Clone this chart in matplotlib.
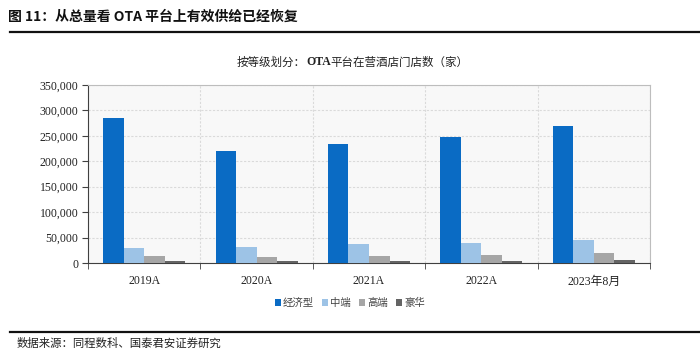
import matplotlib
matplotlib.use("Agg")
import matplotlib.pyplot as plt
import numpy as np
from matplotlib.ticker import FuncFormatter, FixedLocator

plt.rcParams['font.family'] = ['Noto Sans CJK SC', 'DejaVu Sans']

categories = ['2019A', '2020A', '2021A', '2022A', '2023年8月']
series_names = ['经济型', '中端', '高端', '豪华']
economy = [285000, 221000, 234000, 248000, 270000]
midscale = [29000, 32000, 37000, 39000, 45000]
upscale = [14000, 12000, 14000, 16000, 19500]
luxury = [3000, 3000, 3500, 4500, 5000]
yticks = [0, 50000, 100000, 150000, 200000, 250000, 300000, 350000]
colors = ['#0a6bc4', '#9dc3e6', '#a6a6a6', '#646464']

W, H = 700, 356
fig = plt.figure(figsize=(W/100, H/100), dpi=100)
ax = fig.add_axes([88/W, 1-263/H, (650-88)/W, (263-85)/H])
ax.set_facecolor('#f8f8f8')

x = np.arange(len(categories))
bw = 0.1824
for i, (vals, c, n) in enumerate(zip([economy, midscale, upscale, luxury], colors, series_names)):
    ax.bar(x + (i-1.5)*bw, vals, bw, color=c, label=n, zorder=3)

ax.set_xlim(-0.5, len(categories)-0.5)
ax.set_ylim(0, 350000)
ax.set_yticks(yticks)
ax.yaxis.set_major_formatter(FuncFormatter(lambda v, p: f'{int(v):,}'))
ax.set_xticks(x)
ax.set_xticklabels(categories)
ax.xaxis.set_minor_locator(FixedLocator(np.arange(-0.5, len(categories), 1.0)))
ax.tick_params(axis='x', which='major', length=0, pad=9)
ax.tick_params(axis='x', which='minor', length=4, direction='out', color='#404040')
ax.tick_params(axis='y', length=4, direction='out', color='#404040', pad=3)
for lab in ax.get_xticklabels() + ax.get_yticklabels():
    lab.set_fontfamily(['Liberation Serif', 'Noto Sans CJK SC'])
    lab.set_fontsize(8.5)
    lab.set_color('#222222')

ax.grid(axis='y', color='#dadada', linestyle=(0, (2, 1.5)), linewidth=0.8, zorder=0)
ax.grid(axis='x', which='minor', color='#dadada', linestyle=(0, (2, 1.5)), linewidth=0.8, zorder=0)
for s in ['top', 'right']:
    ax.spines[s].set_color('#bdbdbd')
for s in ['left', 'bottom']:
    ax.spines[s].set_color('#404040')

ax.legend(loc='upper center', bbox_to_anchor=(350/W, 1-298/H), bbox_transform=fig.transFigure,
          ncol=4, frameon=False, fontsize=7.5, handlelength=0.55, handleheight=0.55,
          handletextpad=0.2, columnspacing=0.8, labelcolor='#444444',
          borderaxespad=0, borderpad=0)

fig.text(8/W, 1-17/H, '图 11：从总量看 OTA 平台上有效供给已经恢复', fontsize=10,
         fontweight='bold', va='center', ha='left', color='#111111')
fig.add_artist(plt.Line2D([10/W, 1.0], [1-32/H, 1-32/H], color='#111111', linewidth=1.6))

# subtitle with bold serif "OTA"
ty = 1-62/H
t1 = fig.text(237/W, ty, '按等级划分：', fontsize=8.3, va='center', ha='left', color='#222222')
fig.canvas.draw()
r = fig.canvas.get_renderer()
bb = t1.get_window_extent(r)
t2 = fig.text(bb.x1/W, ty, 'OTA', fontsize=8.5, fontweight='bold', family='Liberation Serif',
              va='center', ha='left', color='#222222')
bb2 = t2.get_window_extent(r)
fig.text(bb2.x1/W, ty, '平台在营酒店门店数（家）', fontsize=8.3, va='center', ha='left', color='#222222')

fig.add_artist(plt.Line2D([10/W, 1.0], [1-332/H, 1-332/H], color='#111111', linewidth=1.6))
fig.text(17/W, 1-343/H, '数据来源：同程数科、国泰君安证券研究', fontsize=8.2,
         va='center', ha='left', color='#222222')

fig.savefig('out.png', dpi=100)
